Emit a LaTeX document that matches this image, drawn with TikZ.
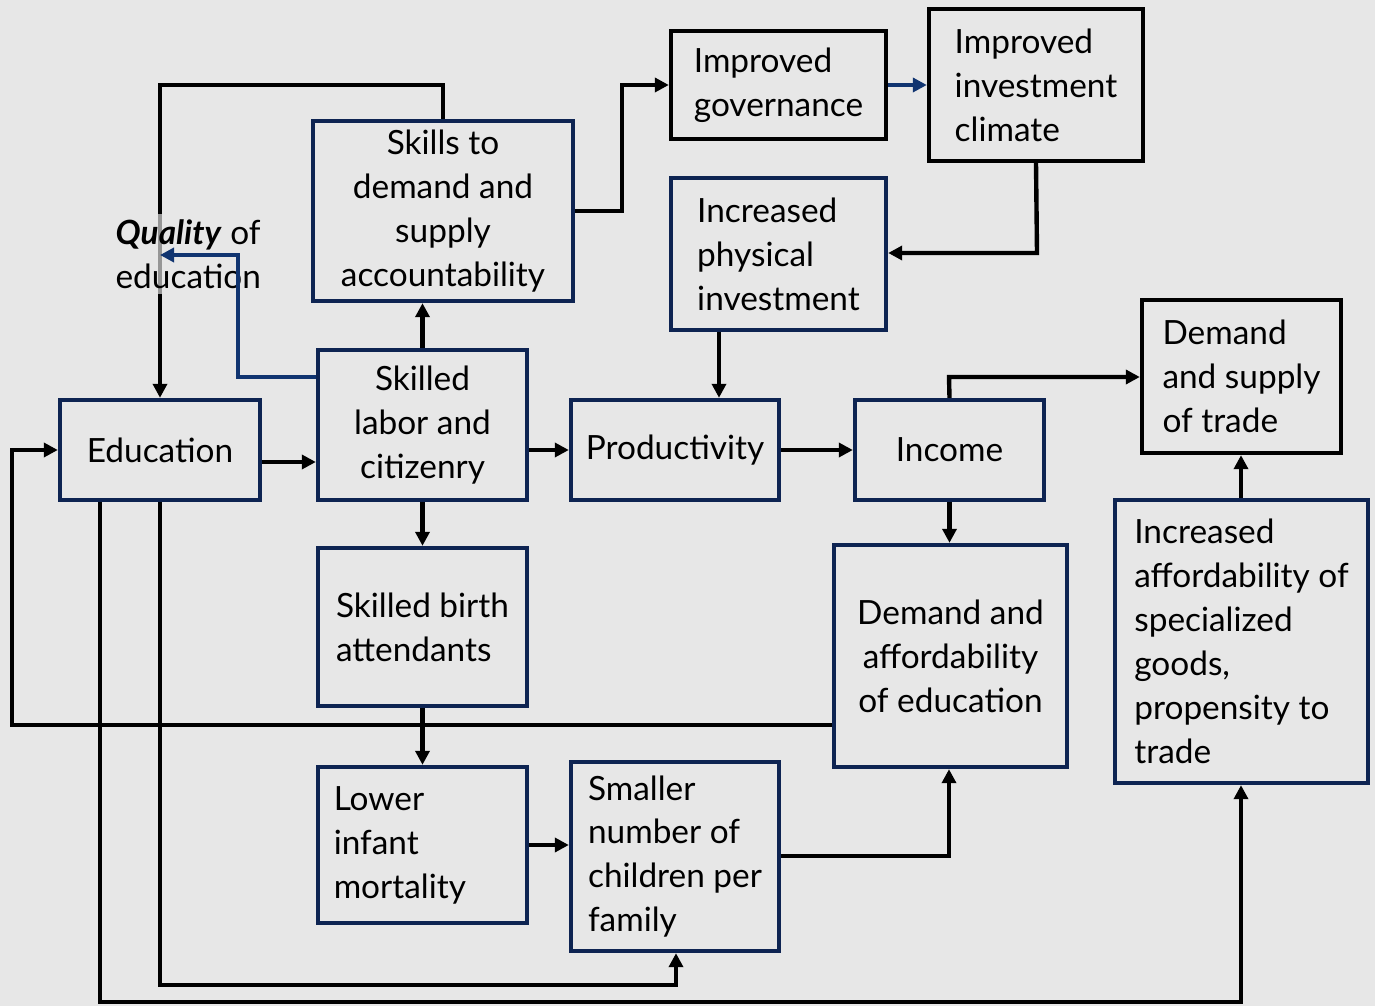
\documentclass[tikz,border=0pt]{standalone}
\usepackage{fontspec}
\setmainfont{Lato}
\usepackage{tikz}
\usetikzlibrary{arrows.meta,calc,positioning}
\definecolor{Fond}{RGB}{231,231,231}
\definecolor{Marine}{RGB}{14,36,82}
\definecolor{Bleu}{RGB}{16,52,112}

\begin{document}
\begin{tikzpicture}[x=0.02cm,y=-0.02cm,
  every node/.style={font=\fontsize{19}{25}\selectfont},
  navybox/.style={draw=Marine,line width=2.5pt,fill=Fond,inner sep=0pt},
  blackbox/.style={draw=black,line width=2.5pt,fill=Fond,inner sep=0pt},
  fleche/.style={line width=2.5pt,-{Triangle[length=8pt,width=8pt]}},
  flechebleue/.style={fleche,draw=Bleu}]
\useasboundingbox[fill=Fond] (0,0) rectangle (1375,1006);
%
% boxes
\node[navybox,minimum width=4cm,minimum height=2cm,align=center] (edu) at (160,450) {Education};
\node[navybox,minimum width=4.18cm,minimum height=3cm,align=center] (labor) at (422.5,425) {Skilled\\labor and\\citizenry};
\node[navybox,minimum width=5.2cm,minimum height=3.6cm,align=center] (skills) at (443,211) {Skills to\\demand and\\supply\\accountability};
\node[blackbox,minimum width=4.3cm,minimum height=2.16cm,align=left] (gov) at (778.5,85) {Improved\\governance};
\node[blackbox,minimum width=4.28cm,minimum height=3.04cm,align=left] (climate) at (1036,85) {Improved\\investment\\climate};
\node[navybox,minimum width=4.3cm,minimum height=3.04cm,align=left] (phys) at (778.5,254) {Increased\\physical\\investment};
\node[navybox,minimum width=4.16cm,minimum height=2cm,align=center] (prod) at (675,450) {Productivity};
\node[navybox,minimum width=3.78cm,minimum height=2cm,align=center] (income) at (949.5,450) {Income};
\node[blackbox,minimum width=3.98cm,minimum height=3.06cm,align=left] (trade) at (1241.5,376.5) {Demand\\and supply\\of trade};
\node[navybox,minimum width=5.06cm,minimum height=5.66cm,align=left] (afford) at (1241.5,641.5) {Increased\\affordability of\\specialized\\goods,\\propensity to\\trade};
\node[navybox,minimum width=4.66cm,minimum height=4.44cm,align=center] (demedu) at (950.5,656) {Demand and\\affordability\\of education};
\node[navybox,minimum width=4.18cm,minimum height=3.16cm,align=left] (birth) at (422.5,627) {Skilled birth\\attendants};
\node[navybox,minimum width=4.18cm,minimum height=3.12cm,text width=3.55cm,align=left] (infant) at (422.5,845) {Lower\\infant\\mortality};
\node[navybox,minimum width=4.16cm,minimum height=3.78cm,align=left] (smaller) at (675,856.5) {Smaller\\number of\\children per\\family};
%
% connectors
\draw[fleche] (skills.north) -- (443,85) -- (160,85) -- (edu.north);
\node[fill=Fond,fill opacity=0.65,text opacity=1,inner sep=3pt,align=left,anchor=north west] (quality) at (110,214) {\textbf{\textit{Quality}} of\\education};
\draw[flechebleue] (labor.west |- 0,377) -- (238,377) -- (238,255) -- (160,255);
\draw[fleche] (skills.east) -- (622,211) -- (622,85) -- (gov.west);
\draw[flechebleue] (gov.east) -- (climate.west);
\draw[fleche] (climate.south) -- (1037,253) -- (phys.east |- 0,253);
\draw[fleche] (phys.south -| 719,0) -- (prod.north -| 719,0);
\draw[fleche] (edu.east |- 0,462) -- (labor.west |- 0,462);
\draw[fleche] (labor.north) -- (skills.south -| labor.north);
\draw[fleche] (labor.east |- 0,450) -- (prod.west);
\draw[fleche] (prod.east) -- (income.west);
\draw[fleche] (income.north) -- (949,377) -- (trade.west |- 0,377);
\draw[fleche] (income.south) -- (demedu.north -| income.south);
\draw[fleche] (labor.south) -- (birth.north);
\draw[fleche] (birth.south) -- (infant.north);
\draw[fleche] (infant.east) -- (smaller.west |- infant.east);
\draw[fleche] (smaller.east |- 0,856) -- (949,856) -- (demedu.south -| 949,0);
\draw[fleche] (demedu.west |- 0,725) -- (12,725) -- (12,450) -- (edu.west);
\draw[fleche] (edu.south) -- (160,985) -- (676,985) -- (smaller.south -| 676,0);
\draw[fleche] (edu.south -| 100,0) -- (100,1002) -- (1241,1002) -- (afford.south -| 1241,0);
\draw[fleche] (afford.north -| 1241,0) -- (trade.south -| 1241,0);
\end{tikzpicture}
\end{document}
